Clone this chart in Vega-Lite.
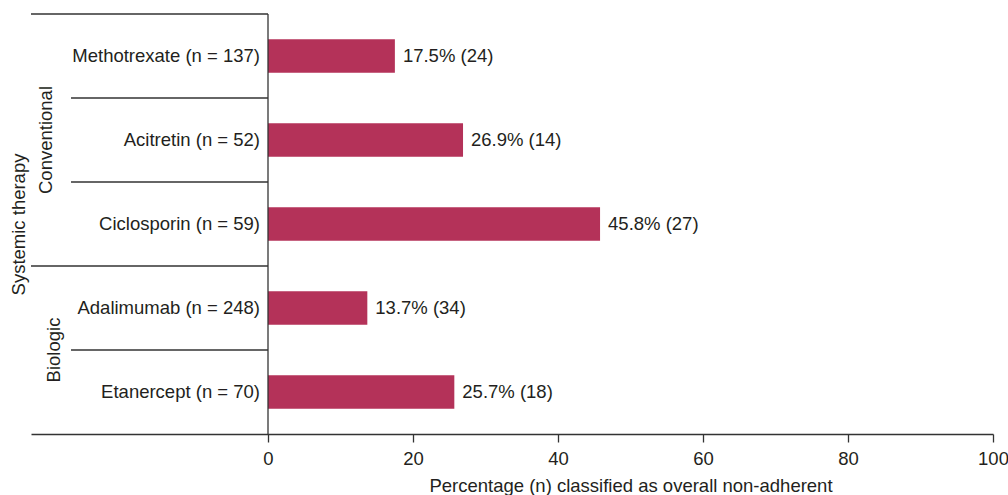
{
  "$schema": "https://vega.github.io/schema/vega-lite/v6.json",
  "description": "Non-adherence by systemic therapy",
  "width": 962,
  "height": 420,
  "autosize": {"type": "none"},
  "padding": {"left": 31, "top": 14, "right": 15, "bottom": 61},
  "config": {
    "font": "Liberation Sans",
    "view": {"stroke": null},
    "text": {"fontSize": 18.5, "color": "#231f20"},
    "rule": {"color": "#333333", "strokeWidth": 1.3}
  },
  "data": {
    "values": [
      {"drug": "Methotrexate", "group": "Conventional", "label": "Methotrexate (n = 137)", "pct": 17.5, "valueLabel": "17.5% (24)"},
      {"drug": "Acitretin", "group": "Conventional", "label": "Acitretin (n = 52)", "pct": 26.9, "valueLabel": "26.9% (14)"},
      {"drug": "Ciclosporin", "group": "Conventional", "label": "Ciclosporin (n = 59)", "pct": 45.8, "valueLabel": "45.8% (27)"},
      {"drug": "Adalimumab", "group": "Biologic", "label": "Adalimumab (n = 248)", "pct": 13.7, "valueLabel": "13.7% (34)"},
      {"drug": "Etanercept", "group": "Biologic", "label": "Etanercept (n = 70)", "pct": 25.7, "valueLabel": "25.7% (18)"}
    ]
  },
  "layer": [
    {
      "mark": {"type": "bar", "color": "#b43259", "height": {"band": 0.4}},
      "encoding": {
        "x": {
          "field": "pct",
          "type": "quantitative",
          "scale": {"domain": [-32.69, 100], "nice": false, "zero": false},
          "axis": {
            "values": [0, 20, 40, 60, 80, 100],
            "title": "Percentage (n) classified as overall non-adherent",
            "grid": false,
            "domainColor": "#333333",
            "domainWidth": 1.3,
            "tickColor": "#333333",
            "tickWidth": 1.3,
            "tickSize": 8,
            "labelFlush": false,
            "labelFontSize": 18.5,
            "labelColor": "#231f20",
            "labelPadding": 7,
            "titleFontSize": 18.5,
            "titleFontWeight": "normal",
            "titleColor": "#231f20",
            "titleX": 599.5,
            "titleY": 57,
            "titleBaseline": "alphabetic"
          }
        },
        "y": {
          "field": "drug",
          "type": "nominal",
          "sort": null,
          "scale": {"paddingInner": 0, "paddingOuter": 0},
          "axis": {
            "title": "Systemic therapy",
            "labels": false,
            "ticks": false,
            "domain": false,
            "grid": false,
            "titleX": -12.5,
            "titleY": 210,
            "titleAngle": 270,
            "titleBaseline": "middle",
            "titleFontSize": 18.5,
            "titleFontWeight": "normal",
            "titleColor": "#231f20"
          }
        }
      }
    },
    {
      "mark": {"type": "text", "align": "left", "baseline": "middle", "dx": 8},
      "encoding": {
        "x": {"field": "pct", "type": "quantitative"},
        "y": {"field": "drug", "type": "nominal", "sort": null},
        "text": {"field": "valueLabel"}
      }
    },
    {
      "mark": {"type": "text", "align": "right", "baseline": "middle", "dx": -8},
      "encoding": {
        "x": {"datum": 0},
        "y": {"field": "drug", "type": "nominal", "sort": null},
        "text": {"field": "label"}
      }
    },
    {
      "transform": [{"filter": {"field": "drug", "oneOf": ["Acitretin", "Ciclosporin", "Etanercept"]}}],
      "mark": "rule",
      "encoding": {
        "x": {"datum": -27.17},
        "x2": {"datum": 0},
        "y": {"field": "drug", "type": "nominal", "sort": null, "bandPosition": 0}
      }
    },
    {
      "transform": [{"filter": {"field": "drug", "oneOf": ["Methotrexate", "Adalimumab"]}}],
      "mark": "rule",
      "encoding": {
        "x": {"datum": -32.69},
        "x2": {"datum": 0},
        "y": {"field": "drug", "type": "nominal", "sort": null, "bandPosition": 0}
      }
    },
    {
      "data": {"values": [{}]},
      "mark": "rule",
      "encoding": {"x": {"datum": 0}}
    },
    {
      "transform": [{"filter": "datum.drug == 'Acitretin'"}],
      "mark": {"type": "text", "angle": 270, "align": "center", "baseline": "middle"},
      "encoding": {
        "x": {"datum": -30.6},
        "y": {"field": "drug", "type": "nominal", "sort": null, "bandPosition": 0.5},
        "text": {"field": "group"}
      }
    },
    {
      "transform": [{"filter": "datum.drug == 'Etanercept'"}],
      "mark": {"type": "text", "angle": 270, "align": "center", "baseline": "middle"},
      "encoding": {
        "x": {"datum": -29.55},
        "y": {"field": "drug", "type": "nominal", "sort": null, "bandPosition": 0},
        "text": {"field": "group"}
      }
    }
  ]
}
